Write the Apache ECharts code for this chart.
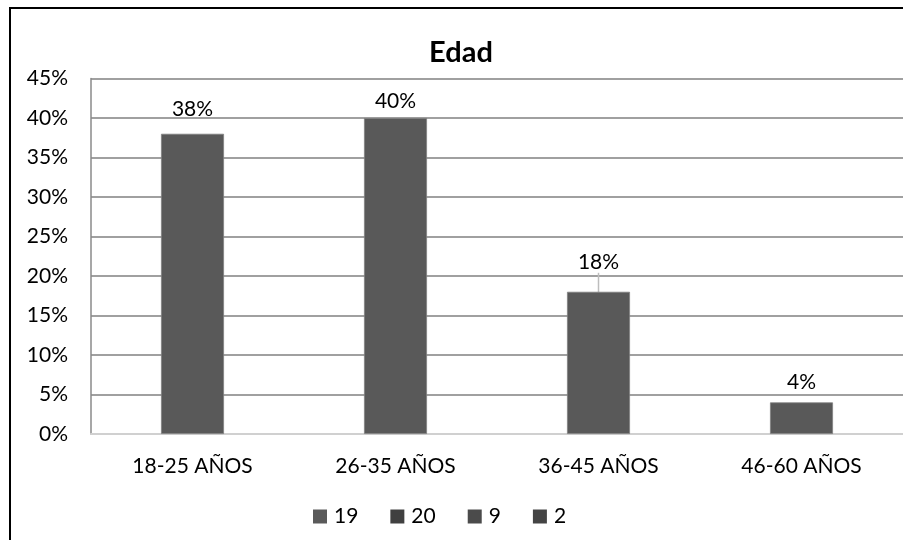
<!DOCTYPE html>
<html>
<head>
<meta charset="utf-8">
<script src="https://cdn.jsdelivr.net/npm/echarts@6/dist/echarts.min.js"></script>
<style>
  html, body { margin: 0; padding: 0; background: #fff; }
  #chart { width: 903px; height: 540px; }
</style>
</head>
<body>
<div id="chart"></div>
<script>
// Age groups and their share of respondents (%)
var categories = ['18-25 AÑOS', '26-35 AÑOS', '36-45 AÑOS', '46-60 AÑOS'];
var shares = [38, 40, 18, 4];
// Respondent counts, shown as the legend entries
var counts = ['19', '20', '9', '2'];
var legendColors = ['#5a5a5a', '#404040', '#4b4b4b', '#444444'];
var yTicks = { min: 0, max: 45, interval: 5 };

var FONT = 'Lato, "Open Sans", sans-serif';
var FS = 21;
var BAR = '#595959';

// Label offsets above each bar (px); the 36-45 label sits higher with a leader line
var labelDistance = [14, 6, 10, 10];
var labelLift = [0, 0, -9, 0];

var series = counts.map(function (name, i) {
  var data = categories.map(function (c, j) {
    if (j !== i) return '-';
    var item = {
      value: shares[j],
      label: { distance: labelDistance[j] }
    };
    if (labelLift[j] !== 0) {
      item.labelLine = { show: true, lineStyle: { color: '#bdbdbd', width: 1.5 } };
    }
    return item;
  });
  return {
    name: name,
    type: 'bar',
    stack: 'edad',
    barWidth: 63,
    data: data,
    itemStyle: { color: BAR, borderColor: '#808080', borderWidth: 0.8 },
    label: {
      show: true,
      position: 'top',
      formatter: '{c}%',
      color: '#000',
      fontFamily: FONT,
      fontSize: FS
    },
    labelLayout: function (p) {
      return { dy: labelLift[p.dataIndex] || 0 };
    }
  };
});

var chart = echarts.init(document.getElementById('chart'), null, { renderer: 'canvas' });
chart.setOption({
  animation: false,
  backgroundColor: '#fff',
  title: {
    text: 'Edad',
    left: 456,
    textAlign: 'center',
    top: 33,
    textStyle: { fontFamily: FONT, fontWeight: 'bold', fontSize: 29, color: '#000' }
  },
  graphic: [{
    type: 'rect',
    shape: { x: 10, y: 8, width: 1000, height: 1000 },
    style: { fill: null, stroke: '#000', lineWidth: 2 },
    z: 100
  }],
  legend: {
    data: counts.map(function (n, i) {
      return { name: n, itemStyle: { color: legendColors[i], borderWidth: 0 } };
    }),
    icon: 'rect',
    itemWidth: 14,
    itemHeight: 14,
    itemGap: 32,
    left: 308,
    top: 501,
    textStyle: { fontFamily: FONT, fontSize: FS, color: '#000', padding: [0, 0, 0, 2] }
  },
  grid: { left: 91, right: 0, top: 78.5, bottom: 106, containLabel: false },
  xAxis: {
    type: 'category',
    data: categories,
    axisLine: { show: true, lineStyle: { color: '#d0d0d0', width: 2 } },
    axisTick: { show: false },
    axisLabel: { fontFamily: FONT, fontSize: FS, color: '#000', margin: 22 }
  },
  yAxis: {
    type: 'value',
    min: yTicks.min,
    max: yTicks.max,
    interval: yTicks.interval,
    axisLine: { show: true, lineStyle: { color: '#8a8a8a', width: 1.5 } },
    axisTick: { show: false },
    splitLine: { show: true, lineStyle: { color: '#808080', width: 1.6 } },
    axisLabel: { formatter: '{value}%', fontFamily: FONT, fontSize: FS, color: '#000', margin: 23 }
  },
  series: series
});
</script>
</body>
</html>
